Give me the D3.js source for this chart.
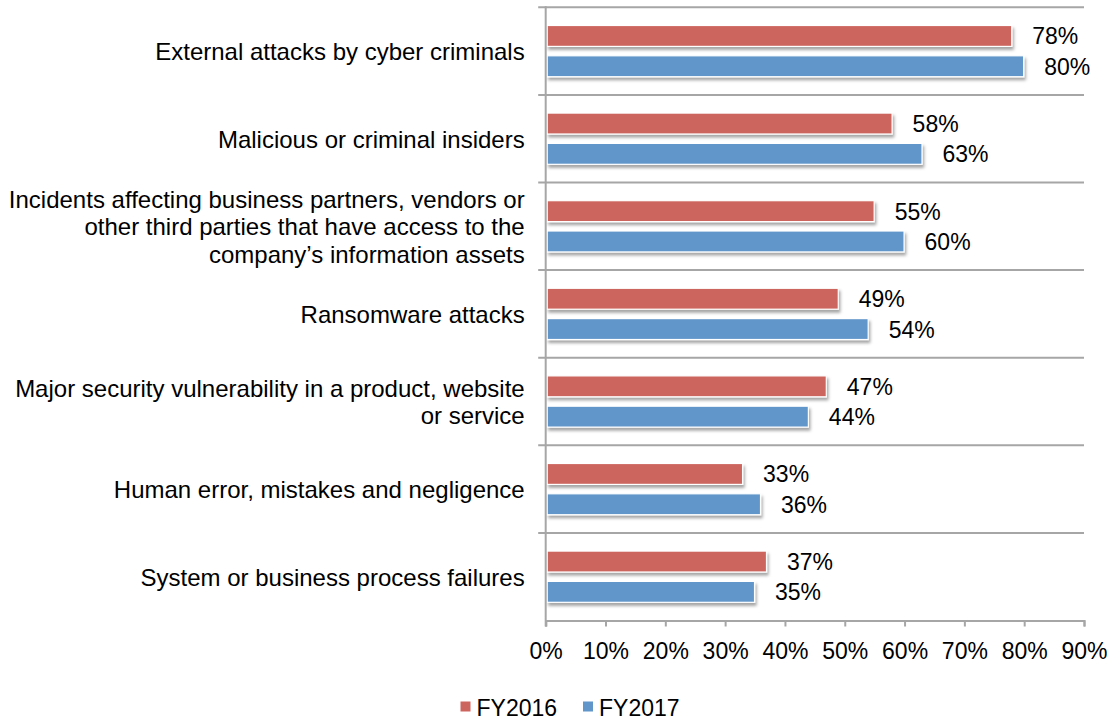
<!DOCTYPE html>
<html>
<head>
<meta charset="utf-8">
<script src="https://cdn.jsdelivr.net/npm/d3@7"></script>
<style>
  html, body { margin: 0; padding: 0; background: #fff; }
  svg { display: block; font-family: "Liberation Sans", Arial, Helvetica, sans-serif; }
</style>
</head>
<body>
<svg id="chart" width="1112" height="720"></svg>
<script>
// Threat sources, one entry per row; "\n" marks a line break in the label
const categories = [
  "External attacks by cyber criminals",
  "Malicious or criminal insiders",
  "Incidents affecting business partners, vendors or\nother third parties that have access to the\ncompany’s information assets",
  "Ransomware attacks",
  "Major security vulnerability in a product, website\nor service",
  "Human error, mistakes and negligence",
  "System or business process failures"
];
const seriesNames = ["FY2016", "FY2017"];
const fy2016 = [78, 58, 55, 49, 47, 33, 37];
const fy2017 = [80, 63, 60, 54, 44, 36, 35];
const xTicks = [0, 10, 20, 30, 40, 50, 60, 70, 80, 90];
const seriesColors = ["#cd655f", "#6196ca"];

const seriesValues = [fy2016, fy2017];
const rows = categories.map((c, i) => ({
  category: c,
  values: seriesNames.map((s, j) => ({ series: s, value: seriesValues[j][i] }))
}));

const svg = d3.select("#chart");
const margin = { left: 545.7, right: 1084, top: 7.3, bottom: 620.5 };
const axisColor = "#a6a6a6";

const x = d3.scaleLinear().domain([0, 90]).range([margin.left, margin.right]);
const y = d3.scaleBand().domain(categories).range([margin.top, margin.bottom]).padding(0);
const ySeries = d3.scaleBand().domain(seriesNames).range([0, y.bandwidth()])
  .paddingInner(0.31).paddingOuter(0.6);
const color = d3.scaleOrdinal().domain(seriesNames).range(seriesColors);

// soft drop shadow under each bar
const defs = svg.append("defs");
const shadow = defs.append("filter").attr("id", "barShadow")
  .attr("x", "-5%").attr("y", "-30%").attr("width", "115%").attr("height", "180%");
shadow.append("feDropShadow")
  .attr("dx", 1.5).attr("dy", 3).attr("stdDeviation", 1.8)
  .attr("flood-color", "#000").attr("flood-opacity", 0.35);

// category separators, with short outward ticks left of the axis
const bounds = categories.map(c => y(c)).concat([margin.bottom]);
svg.append("g").selectAll("line").data(bounds.slice(0, -1)).join("line")
  .attr("x1", margin.left - 7.5).attr("x2", margin.right)
  .attr("y1", d => d).attr("y2", d => d)
  .attr("stroke", axisColor).attr("stroke-width", 2);

// bars
const groups = svg.append("g").selectAll("g").data(rows).join("g")
  .attr("transform", d => `translate(0,${y(d.category)})`);

groups.selectAll("rect").data(d => d.values).join("rect")
  .attr("x", x(0) + 1.5)
  .attr("y", d => ySeries(d.series))
  .attr("width", d => x(d.value) - x(0) - 2)
  .attr("height", ySeries.bandwidth())
  .attr("fill", d => color(d.series))
  .attr("stroke", "#fff").attr("stroke-width", 1.2)
  .attr("filter", "url(#barShadow)");

// value labels
groups.selectAll("text").data(d => d.values).join("text")
  .attr("x", d => x(d.value) + 20)
  .attr("y", d => ySeries(d.series) + ySeries.bandwidth() / 2 + 8.5)
  .attr("font-size", 23).attr("fill", "#000")
  .text(d => d.value + "%");

// category labels, right-aligned beside the axis
const catLabels = svg.append("g").selectAll("text").data(categories).join("text")
  .attr("text-anchor", "end")
  .attr("font-size", 24).attr("fill", "#000");
catLabels.each(function (c) {
  const lines = c.split("\n");
  const cy = y(c) + y.bandwidth() / 2 + 9;
  d3.select(this).selectAll("tspan").data(lines).join("tspan")
    .attr("x", margin.left - 21)
    .attr("y", (l, i) => cy + (i - (lines.length - 1) / 2) * 27.5)
    .text(l => l);
});

// value axis along the bottom
const xAxis = d3.axisBottom(x).tickValues(xTicks).tickFormat(d => d + "%")
  .tickSize(6).tickSizeOuter(6);
const gx = svg.append("g").attr("transform", `translate(0,${margin.bottom})`).call(xAxis);
gx.select(".domain").attr("stroke", axisColor).attr("stroke-width", 2);
gx.selectAll(".tick line").attr("stroke", axisColor).attr("stroke-width", 2);
gx.selectAll(".tick text").attr("font-size", 23).attr("fill", "#000")
  .attr("font-family", null).attr("dy", null).attr("y", 38.5);
gx.attr("font-family", null);

// vertical category axis line
svg.append("line")
  .attr("x1", margin.left).attr("x2", margin.left)
  .attr("y1", margin.top - 1).attr("y2", margin.bottom + 6)
  .attr("stroke", axisColor).attr("stroke-width", 2);

// legend
const legend = svg.append("g").attr("transform", "translate(460.5,716)");
const legendItems = legend.selectAll("g").data(seriesNames).join("g")
  .attr("transform", (d, i) => `translate(${i * 122.5},0)`);
legendItems.append("rect")
  .attr("x", 0).attr("y", -14.5).attr("width", 10).attr("height", 10)
  .attr("fill", d => color(d));
legendItems.append("text")
  .attr("x", 16).attr("y", 0)
  .attr("font-size", 23).attr("fill", "#000")
  .text(d => d);
</script>
</body>
</html>
